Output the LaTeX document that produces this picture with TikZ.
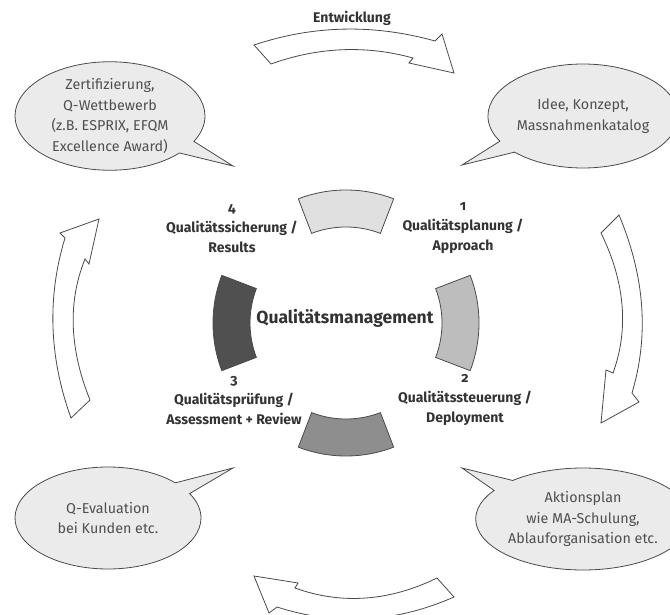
\documentclass[tikz,border=0pt]{standalone}
\usepackage{fontspec}
\setmainfont[Numbers=OldStyle]{Fira Sans}
\usepackage{tikz}
\usetikzlibrary{shapes.callouts,positioning}
\definecolor{borde}{HTML}{4A4A4A}
\definecolor{fondo}{HTML}{EBEBEB}
\definecolor{textgris}{HTML}{4F4F4F}
\definecolor{textoscuro}{HTML}{333333}
\definecolor{segA}{HTML}{E0E0E0}
\definecolor{segB}{HTML}{BDBDBD}
\definecolor{segC}{HTML}{8E8E8E}
\definecolor{segD}{HTML}{505050}

\begin{document}
\begin{tikzpicture}[x=1pt,y=-1pt, % 1 unidad = 1 pixel, y hacia abajo
  burbuja/.style={ellipse callout, draw=borde, fill=fondo, line width=0.8pt,
    align=center, text=textgris, inner sep=1pt,
    font=\fontsize{14.3}{20.5}\selectfont},
  etiqueta/.style={align=center, text=textoscuro,
    font=\bfseries\fontsize{14}{20}\selectfont},
  flecha/.style={draw=borde, fill=white, line width=0.8pt},
  segmento/.style={draw=borde, line width=0.8pt}]
\useasboundingbox (0,0) rectangle (670,615);
\clip (0,0) rectangle (670,615);
% Anillo central de cuatro segmentos
\foreach \ang/\tono in {-90/segA,0/segB,90/segC,180/segD}
  \draw[segmento, fill=\tono, shift={(346,323)}]
    (\ang-21:133) arc[start angle=\ang-21, end angle=\ang+21, radius=133]
    -- (\ang+21:96) arc[start angle=\ang+21, end angle=\ang-21, radius=96] -- cycle;
\node[etiqueta, font=\bfseries\fontsize{17.5}{20}\selectfont] (qm) at (345,318) {Qualitätsmanagement};
% Las cuatro fases
\node[etiqueta] (plan) at (463,228) {1\\Qualitätsplanung /\\Approach};
\node[etiqueta] (steuer) at (465,400) {2\\Qualitätssteuerung /\\Deployment};
\node[etiqueta] (pruef) at (234,401) {3\\Qualitätsprüfung /\\Assessment + Review};
\node[etiqueta] (sicher) at (232,229) {4\\Qualitätssicherung /\\Results};
% Flechas huecas alrededor
\draw[flecha] (254,45) .. controls (314,25) and (374,24) .. (435,41) -- (442,34) -- (454,73)
  -- (409,63) -- (413,58) .. controls (366,45) and (318,47) .. (271,64) -- cycle;
\node[etiqueta] (entw) at (352,18) {Entwicklung};
\draw[flecha] (619,215) .. controls (645,277) and (649,336) .. (632,393) -- (639,402) -- (601,423)
  -- (606,370) -- (613,373) .. controls (629,329) and (625,282) .. (601,233) -- cycle;
\draw[flecha] (254,576) -- (298,583) -- (295,588) .. controls (342,605) and (390,601) .. (437,578)
  -- (454,597) .. controls (395,623) and (336,626) .. (277,607) -- (269,613) -- cycle;
\draw[flecha] (99,219) -- (60,233) -- (65,238) .. controls (47,297) and (49,357) .. (71,418)
  -- (90,400) .. controls (69,348) and (68,301) .. (85,259) -- (89,264) -- cycle;
% Burbujas de texto
\node[burbuja, minimum width=190pt, minimum height=104pt,
  callout absolute pointer={(233,166)}] (zert) at (110,116)
  {Zertifizierung,\\Q-Wettbewerb\\(z.B. ESPRIX, EFQM\\Excellence Award)};
\node[burbuja, minimum width=172pt, minimum height=104pt,
  callout absolute pointer={(462,165)}] (idee) at (583,116)
  {Idee, Konzept,\\Massnahmenkatalog};
\node[burbuja, minimum width=186pt, minimum height=102pt,
  callout absolute pointer={(233,468)}] (eval) at (108,518)
  {Q-Evaluation\\bei Kunden etc.};
\node[burbuja, minimum width=172pt, minimum height=102pt,
  callout absolute pointer={(462,468)}] (aktion) at (583,519)
  {Aktionsplan\\wie MA-Schulung,\\Ablauforganisation etc.};
\end{tikzpicture}
\end{document}
